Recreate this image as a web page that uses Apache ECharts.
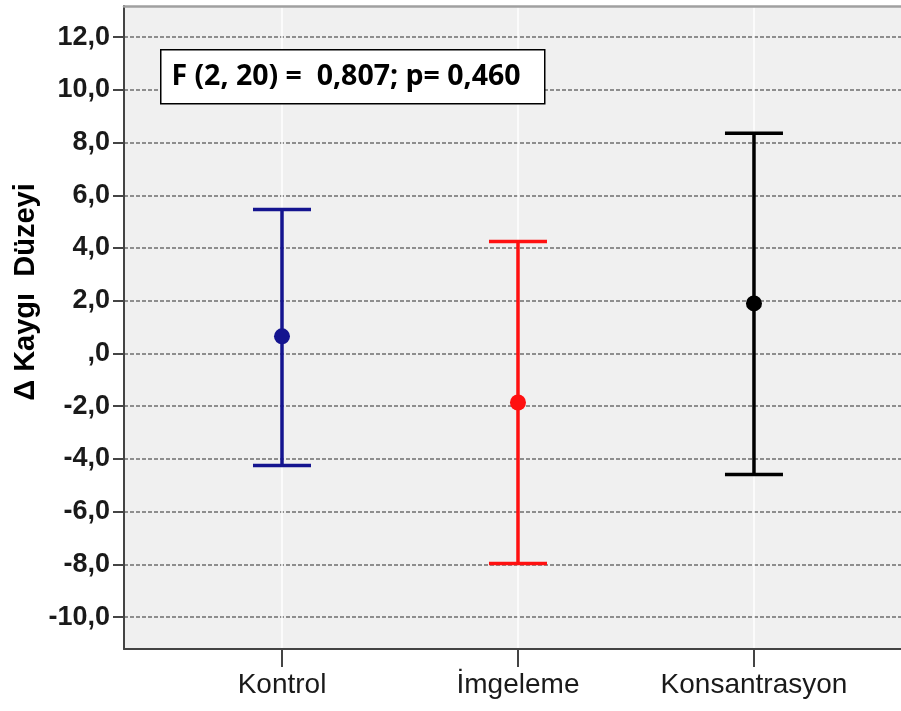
<!DOCTYPE html>
<html>
<head>
<meta charset="utf-8">
<script src="https://cdn.jsdelivr.net/npm/echarts@6/dist/echarts.min.js"></script>
<style>html,body{margin:0;padding:0;background:#fff;}#c{width:901px;height:711px;}</style>
</head>
<body>
<div id="c"></div>
<script>
// Data
var categories = ['Kontrol', 'İmgeleme', 'Konsantrasyon'];
var means = [0.65, -1.86, 1.90];
var lowerCI = [-4.25, -7.97, -4.59];
var upperCI = [5.46, 4.25, 8.35];
var colors = ['#14148f', '#ff1010', '#000000'];
var yTicks = [-10, -8, -6, -4, -2, 0, 2, 4, 6, 8, 10, 12];
var annotation = 'F (2, 20) =  0,807; p= 0,460';
var yTitle = 'Δ Kaygı  Düzeyi';

var chart = echarts.init(document.getElementById('c'), null, {renderer: 'canvas'});

var errData = categories.map(function (c, i) {
  return [i + 1, means[i], lowerCI[i], upperCI[i]];
});

function renderItem(params, api) {
  var x = api.value(0);
  var pm = api.coord([x, api.value(1)]);
  var pl = api.coord([x, api.value(2)]);
  var pu = api.coord([x, api.value(3)]);
  var col = colors[params.dataIndex];
  var hw = 29;
  var ls = {stroke: col, lineWidth: 3.5};
  return {
    type: 'group',
    children: [
      {type: 'line', shape: {x1: pl[0], y1: pl[1], x2: pu[0], y2: pu[1]}, style: ls},
      {type: 'line', shape: {x1: pu[0] - hw, y1: pu[1], x2: pu[0] + hw, y2: pu[1]}, style: ls},
      {type: 'line', shape: {x1: pl[0] - hw, y1: pl[1], x2: pl[0] + hw, y2: pl[1]}, style: ls},
      {type: 'circle', shape: {cx: pm[0], cy: pm[1], r: 8}, style: {fill: col}}
    ]
  };
}

var option = {
  animation: false,
  grid: {
    left: 124, top: 6, right: 0, bottom: 62,
    show: true, backgroundColor: '#f0f0f0', borderWidth: 0
  },
  xAxis: [{
    type: 'value',
    min: 0.3305, max: 3.623,
    axisLine: {show: true, onZero: false, lineStyle: {color: '#444', width: 2}},
    axisTick: {show: true, length: 18, customValues: [1, 2, 3], lineStyle: {color: '#444', width: 2}},
    axisLabel: {
      customValues: [1, 2, 3], margin: 22,
      formatter: function (v) { return categories[Math.round(v) - 1] || ''; },
      color: '#1a1a1a', fontFamily: 'Liberation Sans', fontSize: 28
    },
    splitLine: {show: true, lineStyle: {color: '#ffffff', width: 1.5, type: 'solid'}}
  }, {
    type: 'value', position: 'top',
    min: 0.3305, max: 3.623,
    axisLine: {show: true, onZero: false, lineStyle: {color: '#a0a0a0', width: 2.5}},
    axisTick: {show: false}, axisLabel: {show: false}, splitLine: {show: false}
  }],
  yAxis: {
    type: 'value',
    min: -11.21, max: 13.18,
    axisLine: {show: true, onZero: false, lineStyle: {color: '#444', width: 2}},
    axisTick: {show: true, length: 11, customValues: yTicks, lineStyle: {color: '#444', width: 2}},
    axisLabel: {
      customValues: yTicks, margin: 14,
      formatter: function (v) { return v === 0 ? ',0' : v.toFixed(1).replace('.', ','); },
      color: '#1a1a1a', fontFamily: 'Liberation Sans', fontWeight: 'bold', fontSize: 27
    },
    splitLine: {show: true, lineStyle: {color: '#6e6e6e', width: 1.5, type: [4, 2]}}
  },
  graphic: [
    {
      type: 'rect', left: 160, top: 49, z: 100,
      shape: {width: 384, height: 54},
      style: {fill: '#ffffff', stroke: '#000000', lineWidth: 1.5}
    },
    {
      type: 'text', z: 101, x: 346, y: 77,
      style: {
        text: annotation, fill: '#000', font: 'bold 28.5px "Open Sans"',
        align: 'center', verticalAlign: 'middle'
      }
    },
    {
      type: 'text', z: 101, x: 26, y: 292, rotation: Math.PI / 2,
      style: {
        text: yTitle, fill: '#000', font: 'bold 29px "Liberation Sans"',
        align: 'center', verticalAlign: 'middle'
      }
    }
  ],
  series: [{
    type: 'custom',
    renderItem: renderItem,
    data: errData,
    encode: {x: 0, y: [1, 2, 3]},
    z: 10
  }]
};
chart.setOption(option);
</script>
</body>
</html>
